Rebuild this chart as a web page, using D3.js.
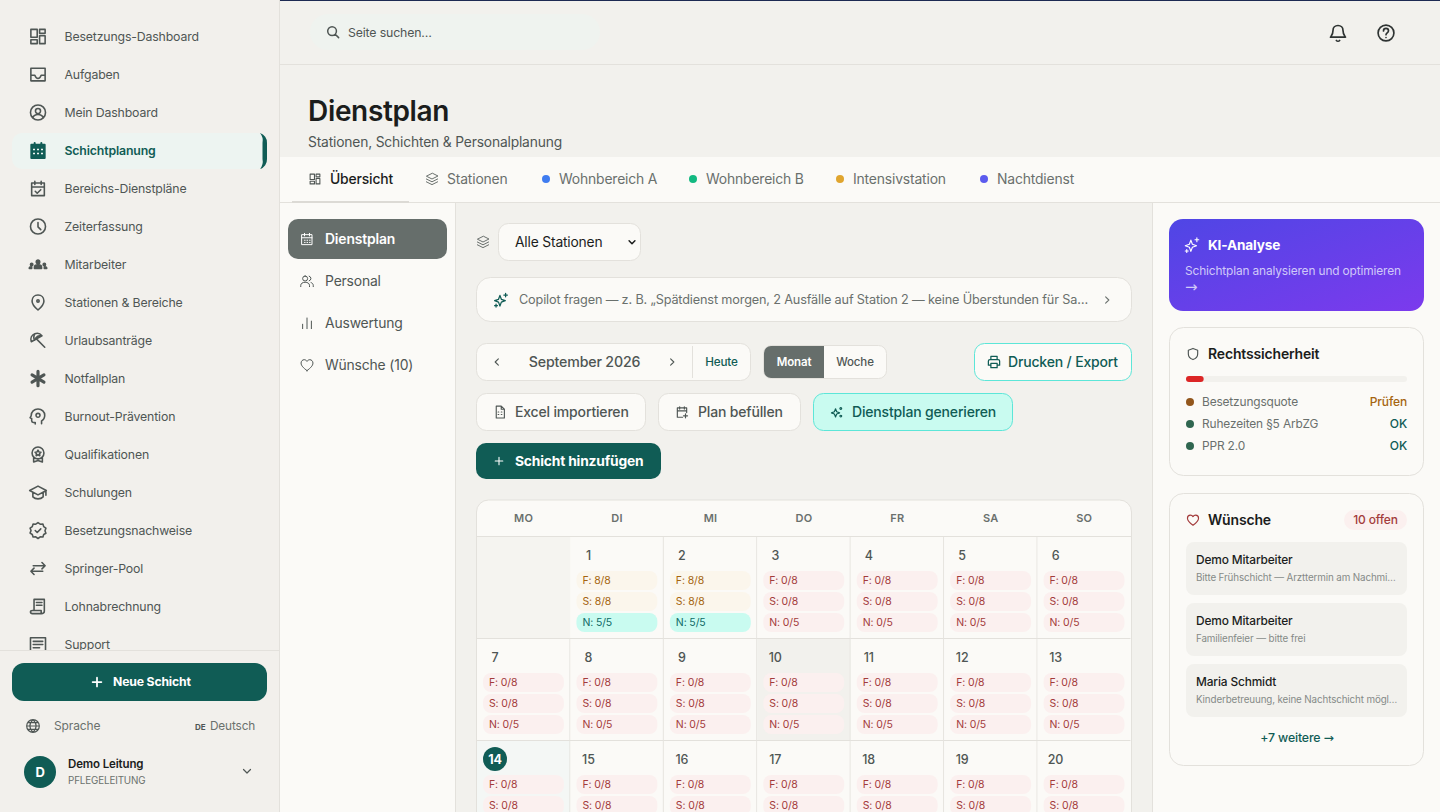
<!DOCTYPE html>
<html lang="de">
<head>
<meta charset="utf-8">
<title>Dienstplan</title>
<script src="https://cdn.jsdelivr.net/npm/d3@7"></script>
<style>
html, body { margin: 0; padding: 0; background: #f2f1ed; overflow: hidden; }
svg { display: block; }
text { font-family: Inter, "Noto Sans", sans-serif; letter-spacing: -0.012em; dominant-baseline: central; }
</style>
</head>
<body>
<div id="app"></div>
<script>
// sidebar
var navLabels = ['Besetzungs-Dashboard','Aufgaben','Mein Dashboard','Schichtplanung','Bereichs-Dienstpläne','Zeiterfassung','Mitarbeiter','Stationen & Bereiche','Urlaubsanträge','Notfallplan','Burnout-Prävention','Qualifikationen','Schulungen','Besetzungsnachweise','Springer-Pool','Lohnabrechnung','Support'];
var navIcons = ['dash','inbox','userc','calfill','calcheck','clock','team','pin','umbrella','aster','brain','award','cap','badge','swap','receipt','msg'];

// tabs + sub navigation
var tabLabels = ['Übersicht','Stationen','Wohnbereich A','Wohnbereich B','Intensivstation','Nachtdienst'];
var tabColors = [null,null,'#3f7cf0','#12b981','#e0a52e','#5b5bee'];
var subLabels = ['Dienstplan','Personal','Auswertung','Wünsche (10)'];
var subIcons = ['cal','users','bars','heart'];

// calendar
var weekdays = ['MO','DI','MI','DO','FR','SA','SO'];
var weeks = [0,1,2];
var dayNumbers = [null,1,2,3,4,5,6, 7,8,9,10,11,12,13, 14,15,16,17,18,19,20];
var shiftKeys = ['F','S','N'];
var shiftRequired = [8,8,5];
var earlyFilled = [null,8,8,0,0,0,0, 0,0,0,0,0,0,0, 0,0,0,0,0,0,0];
var lateFilled  = [null,8,8,0,0,0,0, 0,0,0,0,0,0,0, 0,0,0,0,0,0,0];
var nightFilled = [null,5,5,0,0,0,0, 0,0,0,0,0,0,0, 0,0,0,0,0,0,0];
var todayNumber = 14, hoverNumber = 10;

// right column
var legalLabels = ['Besetzungsquote','Ruhezeiten §5 ArbZG','PPR 2.0'];
var legalStates = ['Prüfen','OK','OK'];
var quotaPercent = 8;
var wishNames = ['Demo Mitarbeiter','Demo Mitarbeiter','Maria Schmidt'];
var wishTexts = ['Bitte Frühschicht — Arzttermin am Nachmi…','Familienfeier — bitte frei','Kinderbetreuung, keine Nachtschicht mögl…'];

var C = { side:'#f2f0ec', main:'#f2f1ed', card:'#fbfaf7', line:'#e3e1dc', ink:'#1b1d1c', body:'#4f5654', mute:'#6a706d', teal:'#105c55', slate:'#666e6b', mint:'#c9fbf0', mintLine:'#5ce6d8' };

var icons = {
	dash:'M3 3h8v10H3z M14 3h7v5h-7z M14 11h7v10h-7z M3 16h8v5H3z',
	inbox:'M3 4h18v16H3z M3 13h5c1 3 2 4 4 4s3-1 4-4h5',
	userc:'M12 2.500a9.500 9.500 0 1 0 0 19a9.500 9.500 0 1 0 0-19z M12 7a3.200 3.200 0 1 0 0 6.400a3.200 3.200 0 1 0 0-6.400z M5.500 18.500c1-3 3.500-4 6.500-4s5.500 1 6.500 4',
	cal:'M4 5h16v16H4z M4 10h16 M8 3v4 M16 3v4 M8 14h1 M12 14h1 M16 14h1 M8 17.500h1 M12 17.500h1 M16 17.500h1',
	calcheck:'M4 5h16v16H4z M4 10h16 M8 3v4 M16 3v4 M8.500 15.500l2.500 2.500 4.500-4.500',
	clock:'M12 2.500a9.500 9.500 0 1 0 0 19a9.500 9.500 0 1 0 0-19z M12 7v5.500l3.500 3.500',
	team:'M12 6.500a2.200 2.200 0 1 0 0 4.400a2.200 2.200 0 1 0 0-4.400z M7.500 17v-1.500c0-2 2-3 4.500-3s4.500 1 4.500 3V17z M4 10.500a1.500 1.500 0 1 0 0 3a1.500 1.500 0 1 0 0-3z M20 10.500a1.500 1.500 0 1 0 0 3a1.500 1.500 0 1 0 0-3z M1 17c0-1.500 1-2 3-2v2z M23 17c0-1.500-1-2-3-2v2z',
	pin:'M12 2.500c-4.500 0-7.500 3.300-7.500 7.500c0 4.500 4 8.500 7.500 11.500c3.500-3 7.500-7 7.500-11.500c0-4.200-3-7.500-7.500-7.500z M12 8.500a1.500 1.500 0 1 0 0 3a1.500 1.500 0 1 0 0-3z',
	umbrella:'M3.500 13.500C2 9 4 5 8 3.500c4-1.500 7 0 9 2.500z M10 10l10.500 10.500 M8 3.500c-1.500 3-1.500 6.500 0 8 M17 6c-3-.5-6 0-8 3',
	aster:'M12 3v18 M4.500 7.500l15 9 M19.500 7.500l-15 9',
	brain:'M12 2.500c-5 0-8.500 3.500-8.500 8c0 1-1.500 3-1.500 3l2 1v3c0 1 1 2 2 2h2.500v2 M12 2.500c5 0 8.500 3.500 8.500 8c0 4-2 6-4 7v3.500 M12 8a2.500 2.500 0 1 0 0 5a2.500 2.500 0 1 0 0-5z',
	award:'M12 2.500a7.500 7.500 0 1 0 0 15a7.500 7.500 0 1 0 0-15z M6.500 15.500v6l5.500-2 5.500 2v-6 M12 6.500l1.200 2.300 2.500.4-1.800 1.800.4 2.500-2.300-1.200-2.300 1.200.4-2.500-1.800-1.800 2.500-.4z',
	cap:'M12 4L1.500 9.500 12 15l10.500-5.500z M5.500 12v5.500c2 2 4.500 2.500 6.500 2.500s4.500-.5 6.500-2.500V12 M22 9.500v6',
	badge:'M12 2l2.800 2 3.400-.2 1 3.300 2.800 2-1.200 3.200 1.200 3.200-2.800 1.500-1 3.300-3.400-.2-2.800 2-2.800-2-3.400.2-1-3.300L2 15.300l1.200-3.200L2 9.100l2.800-2 1-3.300 3.400.2z M8.500 12l2.500 2.500 4.500-4.500',
	swap:'M3 15.500h15 M7 11.500l-4 4 4 4 M21 8.500H6 M17 4.500l4 4-4 4',
	receipt:'M7 3h13v15 M7 3v14h9v4H5c-1.500 0-2.500-1-2.500-2s1-2 2.500-2h2 M16 17v4c2 0 4-1 4-3 M10 7h7 M10 10.500h7',
	msg:'M2.500 3.500h19v17h-19z M6 8h12 M6 12h12 M6 16h8',
	layers:'M12 3L3 7.500 12 12l9-4.500z M3 12l9 4.500 9-4.500 M3 16.500L12 21l9-4.500',
	users:'M9 4a4 4 0 1 0 0 8a4 4 0 1 0 0-8z M2 21v-2c0-3 3-5 7-5s7 2 7 5v2 M15.500 4.200a4 4 0 0 1 0 7.600 M18.500 14.500c2 .6 3.500 2.300 3.500 4.500v2',
	bars:'M5 21v-7 M12 21V4 M19 21V9',
	heart:'M12 21C6 16.500 2.500 13 2.500 8.800C2.500 5.800 4.800 3.500 7.500 3.500c1.800 0 3.500 1 4.500 2.700c1-1.700 2.700-2.700 4.500-2.700c2.700 0 5 2.300 5 5.300C21.500 13 18 16.500 12 21z',
	spark:'M10.500 5.500L12.500 11l5.500 2-5.500 2-2 5.500-2-5.500-5.500-2 5.500-2z M18.500 2.500v5 M16 5h5 M5 18v4 M3 20h4',
	spark2:'M9.500 6.500l2 5 5 2-5 2-2 5-2-5-5-2 5-2z M18.500 4.500a1.500 1.500 0 1 0 .01 0z M18.500 17.500a1.500 1.500 0 1 0 .01 0z',
	left:'M15 5l-7 7 7 7', right:'M9 5l7 7-7 7', down:'M5 9l7 7 7-7',
	print:'M7 8V3h10v5 M7 17H3v-6.500C3 9 4 8 5.500 8h13C20 8 21 9 21 10.500V17h-4 M7 14h10v7H7z',
	file:'M6 2.500h8l5 5v14H6z M14 2.500v5h5 M9 12h1 M14 12h1 M9 16h1 M14 16h1',
	calplus:'M20 13V5H4v16h9 M4 10h16 M8 3v4 M16 3v4 M18 15v7 M14.500 18.500h7',
	plus:'M12 5v14 M5 12h14',
	search:'M10.500 3.500a7 7 0 1 0 0 14a7 7 0 1 0 0-14z M15.500 15.500L21 21',
	bell:'M6 9c0-3.500 2.500-6 6-6s6 2.500 6 6c0 5 2 6.500 3 8H3c1-1.500 3-3 3-8z M10 21c1 1 3 1 4 0',
	help:'M12 2.500a9.500 9.500 0 1 0 0 19a9.500 9.500 0 1 0 0-19z M9 9.500c0-1.700 1.300-3 3-3s3 1.200 3 2.800c0 2.500-3 2.500-3 4.700 M12 17.500h.01',
	shield:'M12 2.500l8 3v6.500c0 5-3.500 8-8 9.500c-4.500-1.500-8-4.500-8-9.500V5.500z',
	globe:'M12 2.500a9.500 9.500 0 1 0 0 19a9.500 9.500 0 1 0 0-19z M2.500 12h19 M12 2.500c-6 6-6 13 0 19 M12 2.500c6 6 6 13 0 19 M4 7h16 M4 17h16'
};

var svg = d3.select('#app').append('svg').attr('width', 1440).attr('height', 812);
var defs = svg.append('defs');

var grad = defs.append('linearGradient').attr('id', 'kiGrad')
	.attr('x1', '0%').attr('y1', '0%').attr('x2', '100%').attr('y2', '100%');
grad.append('stop').attr('offset', '0%').attr('stop-color', '#4f46e5');
grad.append('stop').attr('offset', '100%').attr('stop-color', '#7c3aed');

defs.append('clipPath').attr('id', 'navClip').append('rect')
	.attr('x', 0).attr('y', 0).attr('width', 279).attr('height', 650);

// small drawing helpers
var box = function(p, x, y, w, h, r, fill, stroke) {
	return p.append('rect').attr('x', x).attr('y', y).attr('width', w).attr('height', h)
		.attr('rx', r).attr('fill', fill).attr('stroke', stroke || 'none');
};
var label = function(p, x, y, str, size, weight, fill, anchor) {
	return p.append('text').attr('x', x).attr('y', y).text(str)
		.attr('font-size', size).attr('font-weight', weight).attr('fill', fill)
		.attr('text-anchor', anchor || 'start');
};
var icon = function(p, name, cx, cy, size, color, sw) {
	var k = size / 24;
	return p.append('path').attr('d', icons[name])
		.attr('transform', 'translate(' + (cx - size / 2) + ',' + (cy - size / 2) + ') scale(' + k + ')')
		.attr('fill', 'none').attr('stroke', color).attr('stroke-width', sw || 2)
		.attr('stroke-linecap', 'round').attr('stroke-linejoin', 'round');
};

// page regions
box(svg, 0, 0, 1440, 812, 0, C.main);
box(svg, 0, 0, 279, 812, 0, C.side);
box(svg, 279, 0, 1, 812, 0, C.line);
box(svg, 280, 0, 1160, 1, 0, '#1d2a52');
box(svg, 280, 64, 1160, 1, 0, C.line);
box(svg, 280, 157, 1160, 655, 0, C.card);
box(svg, 280, 202, 1160, 1, 0, C.line);
box(svg, 456, 203, 697, 609, 0, C.main);
box(svg, 455, 203, 1, 609, 0, C.line);
box(svg, 1152, 203, 1, 609, 0, C.line);

// sidebar nav
var nav = svg.append('g').attr('clip-path', 'url(#navClip)');
var navY = d3.scalePoint().domain(navLabels).range([36.500, 644.500]);
box(nav, 12, 133, 255, 36, 10, '#edf4f1');
nav.append('path').attr('d', 'M260 133a10 10 0 0 1 7 10v16a10 10 0 0 1-7 10a12 12 0 0 0 2.500-10v-16a12 12 0 0 0-2.500-10z')
	.attr('fill', C.teal);
navLabels.forEach(function(d, i) {
	var active = d === 'Schichtplanung';
	if (navIcons[i] === 'calfill') {
		icon(nav, 'cal', 38, navY(d), 20, C.teal, 2.400).attr('fill', C.teal);
		nav.append('path').attr('d', 'M33 149.500h2 M37 149.500h2 M41 149.500h2 M33 153.500h2 M37 153.500h2 M41 153.500h2')
			.attr('stroke', '#edf4f1').attr('stroke-width', 1.600);
	} else {
		var ic = icon(nav, navIcons[i], 38, navY(d), 19, C.body, navIcons[i] === 'aster' ? 4 : 2);
		if (navIcons[i] === 'team') ic.attr('fill', C.body);
	}
	label(nav, 64.500, navY(d), d, 12.300, active ? 600 : 400, active ? C.teal : C.body);
});

// sidebar footer
box(svg, 0, 650, 279, 1, 0, C.line);
box(svg, 0, 651, 279, 161, 0, C.side);
box(svg, 12, 663, 255, 38, 12, C.teal);
icon(svg, 'plus', 97, 682, 15, '#fff', 2.800);
label(svg, 113, 681.500, 'Neue Schicht', 12.200, 700, '#fff');
icon(svg, 'globe', 33, 726, 16, C.body, 1.800);
label(svg, 54, 725.500, 'Sprache', 12, 400, C.mute);
label(svg, 195, 727, 'DE', 8, 700, C.body);
label(svg, 210, 725.500, 'Deutsch', 11.800, 400, C.mute);
svg.append('circle').attr('cx', 40).attr('cy', 772).attr('r', 16).attr('fill', C.teal);
label(svg, 40, 772, 'D', 13, 700, '#fff', 'middle');
label(svg, 68, 764, 'Demo Leitung', 11.500, 600, C.ink);
label(svg, 68, 780.500, 'PFLEGELEITUNG', 9.800, 400, C.mute);
icon(svg, 'down', 247, 771, 12, C.body, 2.400);

// top bar
box(svg, 310, 14, 290, 36, 18, '#eff3ef');
icon(svg, 'search', 333, 32, 15, C.body, 2.400);
label(svg, 348, 32, 'Seite suchen…', 12.300, 400, C.body);
icon(svg, 'bell', 1338, 33, 20, '#2e3332', 2);
icon(svg, 'help', 1386, 33, 20, '#2e3332', 2);

// title
label(svg, 308, 110.500, 'Dienstplan', 28, 600, C.ink);
label(svg, 308, 142, 'Stationen, Schichten & Personalplanung', 13.800, 400, C.body);

// tabs
var tabText = [330, 447, 559, 706, 853, 997];
tabLabels.forEach(function(d, i) {
	label(svg, tabText[i], 179, d, 13.900, i === 0 ? 500 : 400, i === 0 ? C.ink : C.mute);
	if (tabColors[i]) {
		svg.append('circle').attr('cx', tabText[i] - 13).attr('cy', 179).attr('r', 4).attr('fill', tabColors[i]);
	}
});
icon(svg, 'dash', 315, 179, 13, C.body, 2);
icon(svg, 'layers', 432, 179, 15, C.mute, 1.600);
box(svg, 292, 201, 117, 2, 0, '#dcdad5');

// sub navigation
var subY = d3.scalePoint().domain(subLabels).range([239, 365]);
box(svg, 288, 219, 159, 40, 10, C.slate);
subLabels.forEach(function(d, i) {
	var col = i === 0 ? '#fff' : C.body;
	icon(svg, subIcons[i], 307, subY(d), 15, col, 1.600);
	label(svg, 325, subY(d), d, 13.900, i === 0 ? 600 : 400, col);
});

// toolbar
icon(svg, 'layers', 483, 242, 15, C.mute, 1.600);
box(svg, 498.500, 223.500, 142, 37, 10, C.card, C.line);
label(svg, 515, 242, 'Alle Stationen', 13.800, 400, C.ink);
icon(svg, 'down', 632, 242, 10, C.ink, 3.600);

box(svg, 476.500, 277.500, 655, 44, 14, C.card, C.line);
icon(svg, 'spark', 501, 300, 17, C.teal, 1.800);
label(svg, 519, 299.500, 'Copilot fragen — z. B. „Spätdienst morgen, 2 Ausfälle auf Station 2 — keine Überstunden für Sa…', 12.700, 400, C.mute);
icon(svg, 'right', 1107, 300, 11, C.mute, 2.400);

box(svg, 476.500, 343.500, 274, 37, 10, C.card, C.line);
icon(svg, 'left', 497, 362, 11, C.body, 2.400);
label(svg, 584.500, 361.500, 'September 2026', 14.200, 500, C.body, 'middle');
icon(svg, 'right', 672, 362, 11, C.body, 2.400);
box(svg, 692, 346, 1, 32, 0, C.line);
label(svg, 721.500, 362, 'Heute', 11.700, 500, C.teal, 'middle');

box(svg, 763.500, 345.500, 123, 33, 8, C.card, C.line);
svg.append('path').attr('d', 'M824 346H771a7 7 0 0 0-7 7v18a7 7 0 0 0 7 7H824z').attr('fill', C.slate);
label(svg, 794, 362, 'Monat', 11.500, 600, '#fff', 'middle');
label(svg, 855, 362, 'Woche', 11.500, 500, C.body, 'middle');

box(svg, 974.500, 343.500, 157, 37, 10, C.card, C.mintLine);
icon(svg, 'print', 994, 362, 15, C.teal, 2);
label(svg, 1008, 361.500, 'Drucken / Export', 14, 500, C.teal);

box(svg, 476.500, 393.500, 169, 37, 10, C.card, C.line);
icon(svg, 'file', 500, 412, 15, C.body, 1.800);
label(svg, 515, 411.500, 'Excel importieren', 14, 500, C.body);
box(svg, 658.500, 393.500, 142, 37, 10, C.card, C.line);
icon(svg, 'calplus', 682, 412, 14, C.body, 2);
label(svg, 698, 411.500, 'Plan befüllen', 14, 500, C.body);
box(svg, 813.500, 393.500, 199, 37, 10, C.mint, C.mintLine);
icon(svg, 'spark2', 837, 412, 14, C.teal, 2);
label(svg, 852, 411.500, 'Dienstplan generieren', 14, 500, C.teal);

box(svg, 476, 443, 185, 36, 10, C.teal);
icon(svg, 'plus', 499, 461, 13, '#fff', 2);
label(svg, 515, 461, 'Schicht hinzufügen', 13.800, 700, '#fff');

// calendar: every cell and chip comes from the arrays through these scales
var xDay = d3.scaleBand().domain(weekdays).range([476.500, 1130.500]);
var yWeek = d3.scaleBand().domain(weeks).range([536.500, 842.500]);
var yShift = d3.scaleBand().domain(shiftKeys).range([34.500, 97.500]);
var filled = { F: earlyFilled, S: lateFilled, N: nightFilled };

var cal = svg.append('g');
cal.append('path').attr('d', 'M476.500 812V512a12 12 0 0 1 12-12H1119.500a12 12 0 0 1 12 12V812')
	.attr('fill', C.card).attr('stroke', C.line);
box(cal, 477, 536, 654, 1, 0, C.line);

cal.selectAll('text.head').data(weekdays).enter().append('text')
	.attr('class', 'head')
	.attr('x', function(d) { return xDay(d) + xDay.bandwidth() / 2 + 0.500; })
	.attr('y', 518)
	.attr('text-anchor', 'middle')
	.attr('font-size', 11).attr('font-weight', 600).attr('fill', C.mute)
	.style('letter-spacing', '0.03em')
	.text(function(d) { return d; });

var cells = cal.selectAll('g.cell').data(dayNumbers).enter().append('g')
	.attr('class', 'cell')
	.attr('transform', function(d, i) {
		return 'translate(' + xDay(weekdays[i % 7]) + ',' + yWeek(Math.floor(i / 7)) + ')';
	});

cells.append('rect')
	.attr('x', 0.500).attr('y', 0.500)
	.attr('width', xDay.bandwidth()).attr('height', yWeek.bandwidth())
	.attr('fill', function(d) {
		if (d === null) return '#f5f4f0';
		if (d === todayNumber) return '#f4f7f5';
		if (d === hoverNumber) return '#f2f1ed';
		return C.card;
	});
// cell borders: bottom on all, right on all but Sunday and the empty lead cell
cells.append('path')
	.attr('d', 'M0 ' + yWeek.bandwidth() + 'H' + xDay.bandwidth())
	.attr('stroke', C.line);
cells.filter(function(d, i) { return i % 7 !== 6 && d !== null; }).append('path')
	.attr('d', 'M' + xDay.bandwidth() + ' 0V' + yWeek.bandwidth())
	.attr('stroke', C.line);

var days = cells.filter(function(d) { return d !== null; });
days.filter(function(d) { return d === todayNumber; }).append('circle')
	.attr('cx', 18.500).attr('cy', 18.500).attr('r', 12).attr('fill', C.teal);
days.append('text')
	.attr('x', 18.500).attr('y', 18.500).attr('text-anchor', 'middle')
	.attr('font-size', 12.500)
	.attr('font-weight', function(d) { return d === todayNumber ? 700 : 500; })
	.attr('fill', function(d) { return d === todayNumber ? '#fff' : C.body; })
	.text(function(d) { return d; });

var chipColor = function(key, n) {
	if (n === 0) return { bg: '#fbf0ef', fg: '#a33b3b' };
	if (key === 'N') return { bg: C.mint, fg: '#0f6a66' };
	return { bg: '#fbf6ec', fg: '#a5650f' };
};
shiftKeys.forEach(function(key, k) {
	// the last week's night chips sit below the visible window
	var rows = days.filter(function(d) { return key !== 'N' || dayNumbers.indexOf(d) < 14; });
	var chip = rows.append('g')
		.attr('transform', 'translate(6.500,' + yShift(key) + ')');
	chip.append('rect')
		.attr('width', xDay.bandwidth() - 12.500).attr('height', yShift.bandwidth() - 2).attr('rx', 8)
		.attr('fill', function(d) { return chipColor(key, filled[key][dayNumbers.indexOf(d)]).bg; });
	chip.append('text')
		.attr('x', 6).attr('y', (yShift.bandwidth() - 2) / 2)
		.attr('font-size', 10.500)
		.attr('fill', function(d) { return chipColor(key, filled[key][dayNumbers.indexOf(d)]).fg; })
		.text(function(d) { return key + ': ' + filled[key][dayNumbers.indexOf(d)] + '/' + shiftRequired[k]; });
});

// KI card
box(svg, 1169, 219, 255, 92, 14, 'url(#kiGrad)');
icon(svg, 'spark', 1192, 245, 18, '#fff', 1.500);
label(svg, 1208, 245, 'KI-Analyse', 13.600, 700, '#fff');
label(svg, 1185, 270.500, 'Schichtplan analysieren und optimieren', 11.900, 400, '#d0c9f8');
label(svg, 1185, 287, '→', 15, 400, '#d0c9f8').style('font-family', '"DejaVu Sans"');

// Rechtssicherheit
box(svg, 1169.500, 327.500, 254, 148, 14, C.card, C.line);
icon(svg, 'shield', 1193, 354, 14, C.body, 2);
label(svg, 1208, 353.500, 'Rechtssicherheit', 14, 600, C.ink);
var xQuota = d3.scaleLinear().domain([0, 100]).range([1186, 1407]);
box(svg, xQuota(0), 376, xQuota(100) - xQuota(0), 6, 3, C.main);
box(svg, xQuota(0), 376, xQuota(quotaPercent) - xQuota(0), 6, 3, '#dc2626');
var yLegal = d3.scalePoint().domain(legalLabels).range([402, 446]);
legalLabels.forEach(function(d, i) {
	var warn = legalStates[i] !== 'OK';
	svg.append('circle').attr('cx', 1190).attr('cy', yLegal(d)).attr('r', 4).attr('fill', warn ? '#92561c' : '#2f6650');
	label(svg, 1202, yLegal(d) - 0.500, d, 11.900, 400, C.mute);
	label(svg, 1407, yLegal(d) - 0.500, legalStates[i], 12, 500, warn ? '#a5650f' : C.teal, 'end');
});

// Wünsche
box(svg, 1169.500, 493.500, 254, 272, 14, C.card, C.line);
icon(svg, 'heart', 1193, 520, 14, '#a33b3b', 2);
label(svg, 1208, 519.500, 'Wünsche', 14, 600, C.ink);
box(svg, 1344, 510, 63, 20, 10, '#fbf0ef');
label(svg, 1375.500, 519.500, '10 offen', 12, 500, '#a33b3b', 'middle');
var yWish = d3.scaleBand().domain(d3.range(wishNames.length)).range([542, 725]);
wishNames.forEach(function(d, i) {
	var y = yWish(i);
	box(svg, 1186, y, 221, 53, 8, C.main);
	label(svg, 1196, y + 17.500, d, 11.900, 500, C.ink);
	label(svg, 1196, y + 35.500, wishTexts[i], 9.800, 400, '#858a87');
});
var more = label(svg, 1297, 737.500, '+7 weitere ', 12.300, 500, C.teal, 'middle');
more.append('tspan').style('font-family', '"DejaVu Sans"').text('→');
</script>
</body>
</html>
